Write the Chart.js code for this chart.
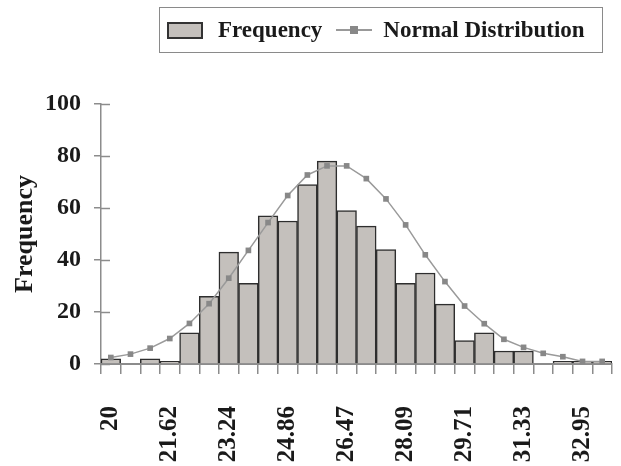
<!DOCTYPE html>
<html lang="en">

<head>
  <meta charset="UTF-8">
  <script src="https://cdn.jsdelivr.net/npm/chart.js"></script>
  <style>
    body {
      margin: 0;
      background: #fff;
    }

    .wrap {
      position: relative;
      width: 621px;
      height: 466px;
    }

    .legend {
      position: absolute;
      left: 159px;
      top: 7px;
      width: 442px;
      height: 44px;
      border: 1px solid #8a8a8a;
      font-family: 'Liberation Serif', serif;
      font-weight: bold;
      font-size: 23px;
      color: #1a1a1a;
      display: flex;
      align-items: center;
    }

    .swatch {
      width: 32px;
      height: 13px;
      margin-left: 7px;
      margin-right: 15px;
      background: #c4c0bc;
      border: 2px solid #333;
    }

    .lineKey {
      position: relative;
      width: 36px;
      height: 2px;
      margin-left: 14px;
      margin-right: 11px;
      background: #999;
    }

    .lineKey span {
      position: absolute;
      left: 14px;
      top: -3px;
      width: 8px;
      height: 8px;
      background: #888;
    }
  </style>
</head>

<body>
  <div class="wrap">
    <canvas id="histChart" width="621" height="466"></canvas>
    <div class="legend">
      <div class="swatch"></div>Frequency
      <div class="lineKey"><span></span></div>Normal Distribution
    </div>
  </div>

  <script>
    // 26 bins of ~0.54, label on every third bin
    const binLabels = ['20', '', '', '21.62', '', '', '23.24', '', '', '24.86', '', '', '26.47', '', '',
      '28.09', '', '', '29.71', '', '', '31.33', '', '', '32.95', ''];
    const frequency = [2, 0, 2, 1, 12, 26, 43, 31, 57, 55, 69, 78, 59, 53, 44, 31, 35, 23, 9, 12, 5, 5, 0, 1, 1, 1];
    const normalDist = [2.5, 3.8, 6.1, 9.8, 15.6, 23.2, 33, 43.7, 54.4, 64.8, 72.7, 76.2, 76.2, 71.3, 63.5,
      53.5, 42, 31.7, 22.3, 15.5, 9.5, 6.4, 4.1, 2.8, 1, 1];
    const yTicks = [0, 20, 40, 60, 80, 100];

    const axisGray = '#8c8c8c';
    const textColor = '#1a1a1a';

    // short tick marks on the inner side of the y axis
    const innerTicks = {
      id: 'innerTicks',
      afterDraw(chart) {
        const y = chart.scales.y;
        const c = chart.ctx;
        c.save();
        c.strokeStyle = axisGray;
        c.lineWidth = 1.5;
        yTicks.forEach(v => {
          const py = Math.round(y.getPixelForValue(v)) + 0.5;
          c.beginPath();
          c.moveTo(y.right, py);
          c.lineTo(y.right + 9, py);
          c.stroke();
        });
        c.restore();
      }
    };

    const ctx = document.getElementById('histChart').getContext('2d');
    const chart = new Chart(ctx, {
      type: 'bar',
      data: {
        labels: binLabels,
        datasets: [
          {
            type: 'line',
            label: 'Normal Distribution',
            data: normalDist,
            borderColor: '#9a9a9a',
            borderWidth: 1.5,
            backgroundColor: '#888',
            pointStyle: 'rect',
            pointRadius: 4,
            pointBorderWidth: 0,
            tension: 0,
            order: 0
          },
          {
            label: 'Frequency',
            data: frequency,
            backgroundColor: '#c4c0bc',
            borderColor: '#2e2e2e',
            borderWidth: 1.5,
            categoryPercentage: 1,
            barPercentage: 1,
            order: 1
          }
        ]
      },
      options: {
        responsive: false,
        animation: false,
        layout: {
          padding: { top: 104, right: 9, left: 4, bottom: 2 }
        },
        plugins: {
          legend: { display: false },
          tooltip: { enabled: false }
        },
        scales: {
          x: {
            // fixed band for the rotated labels, no side padding
            afterFit: axis => {
              axis.paddingLeft = 0;
              axis.paddingRight = 0;
              axis.height = 100;
            },
            grid: {
              drawOnChartArea: false,
              color: axisGray,
              lineWidth: 1.5,
              tickLength: 10
            },
            border: { color: axisGray, width: 2 },
            ticks: {
              autoSkip: false,
              minRotation: 90,
              maxRotation: 90,
              padding: 32,
              color: textColor,
              font: { family: 'Liberation Serif', weight: 'bold', size: 25 }
            }
          },
          y: {
            min: 0,
            max: 100,
            afterBuildTicks: axis => {
              axis.ticks = yTicks.map(v => ({ value: v }));
            },
            afterFit: axis => {
              axis.width = 97;
            },
            grid: {
              drawOnChartArea: false,
              color: axisGray,
              lineWidth: 1.5,
              tickLength: 7
            },
            border: { color: axisGray, width: 1.5 },
            ticks: {
              padding: 13,
              color: textColor,
              font: { family: 'Liberation Serif', weight: 'bold', size: 24 }
            },
            title: {
              display: true,
              text: 'Frequency',
              color: textColor,
              font: { family: 'Liberation Serif', weight: 'bold', size: 26 },
              padding: { top: 6, bottom: 0 }
            }
          }
        }
      },
      plugins: [innerTicks]
    });
  </script>
</body>

</html>
